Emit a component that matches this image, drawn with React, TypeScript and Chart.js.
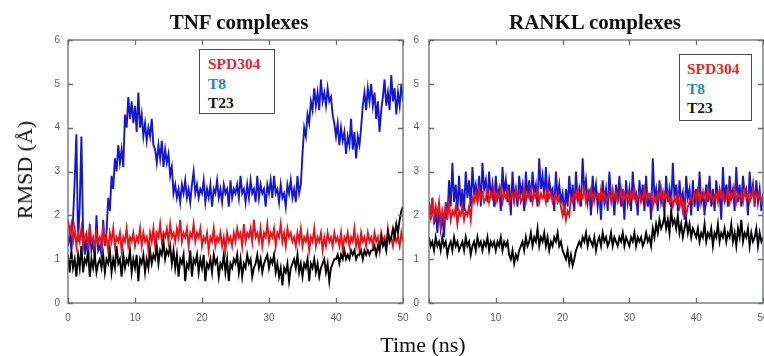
import React, { useEffect, useRef } from "react";
import { Chart, registerables } from "chart.js";

Chart.register(...registerables);

// ---------- data (RMSD in Å, sampled every 0.25 ns from 0 to 50 ns) ----------
const TIME_STEP_NS = 0.25;
const X_TICKS = [0, 10, 20, 30, 40, 50];
const Y_TICKS = [0, 1, 2, 3, 4, 5, 6];
const SERIES_NAMES = ["SPD304", "T8", "T23"];
const PANEL_TITLES = ["TNF complexes", "RANKL complexes"];
const X_TITLE = "Time (ns)";
const Y_TITLE = "RMSD (Å)";

const TNF_T8 = [
  1.3, 1.6, 1.2, 1.9, 2.8, 3.85, 1.4, 2.2, 3.8, 1.6, 1.1, 1.5, 1.0, 1.8, 1.2, 1.4, 1.0, 2.0, 1.2, 1.3,
  1.1, 1.9, 1.3, 1.6, 2.4, 2.1, 2.9, 2.6, 3.3, 3.0, 3.6, 3.2, 3.5, 3.1, 4.3, 4.0, 4.7, 4.2, 4.6, 4.1,
  4.5, 3.9, 4.8, 4.0, 4.3, 3.8, 4.1, 3.7, 4.0, 3.8, 4.2, 3.6, 3.5, 3.2, 3.6, 3.3, 3.7, 3.1, 3.5, 3.2,
  3.4, 2.9, 3.1, 2.5, 2.7, 2.4, 2.6, 2.3, 2.7, 2.5, 2.8, 2.4, 2.6, 2.3, 2.7, 3.0, 2.5, 2.7, 2.4, 2.6,
  2.5, 2.8, 2.3, 2.6, 2.4, 2.7, 2.2, 2.6, 2.5, 2.8, 2.4, 2.6, 2.3, 2.7, 2.5, 2.6, 2.2, 2.8, 2.4, 2.6,
  2.5, 2.7, 2.4, 2.9, 2.5, 2.6, 2.3, 2.7, 2.4, 2.8, 2.5, 2.6, 2.3, 2.9, 2.4, 2.7, 2.5, 2.6, 2.2, 2.7,
  2.5, 2.8, 2.4, 2.9, 2.5, 2.6, 2.3, 2.7, 2.4, 2.5, 2.2, 2.7, 2.5, 2.8, 2.4, 2.6, 2.3, 2.9, 2.5, 2.7,
  3.4, 4.0, 3.8, 4.3, 4.1, 4.6, 4.4, 4.9, 4.5, 4.8, 4.4, 5.1, 4.6, 4.8, 4.5, 4.9, 4.6, 4.7, 4.3, 4.1,
  3.8, 4.1, 3.6, 4.0, 3.7, 3.9, 3.4, 3.8, 3.6, 4.2, 3.5, 3.9, 3.3, 3.8, 3.6, 4.0, 4.5, 4.8, 4.4, 4.9,
  4.6, 5.0, 4.5, 4.8, 4.2, 4.6, 3.9, 4.4, 4.7, 5.1, 4.5, 4.8, 4.4, 5.2, 4.6, 4.9, 4.3, 4.8, 4.5, 5.0, 4.6,
];

const TNF_SPD304 = [
  1.9, 1.6, 1.8, 1.4, 1.7, 1.3, 1.6, 1.4, 1.7, 1.3, 1.5, 1.6, 1.3, 1.7, 1.4, 1.5, 1.2, 1.6, 1.4, 1.5,
  1.3, 1.7, 1.4, 1.5, 1.2, 1.6, 1.4, 1.7, 1.3, 1.5, 1.4, 1.6, 1.2, 1.5, 1.4, 1.7, 1.3, 1.5, 1.4, 1.6,
  1.3, 1.5, 1.4, 1.7, 1.3, 1.6, 1.4, 1.5, 1.2, 1.6, 1.4, 1.7, 1.3, 1.6, 1.5, 1.8, 1.4, 1.6, 1.5, 1.7,
  1.4, 1.8, 1.5, 1.6, 1.4, 1.7, 1.5, 1.9, 1.4, 1.6, 1.5, 1.7, 1.3, 1.6, 1.5, 1.8, 1.4, 1.6, 1.5, 1.7,
  1.3, 1.5, 1.4, 1.6, 1.2, 1.5, 1.4, 1.7, 1.3, 1.5, 1.4, 1.6, 1.3, 1.5, 1.2, 1.6, 1.4, 1.5, 1.3, 1.6,
  1.4, 1.7, 1.5, 1.6, 1.3, 1.8, 1.4, 1.6, 1.5, 1.7, 1.4, 1.9, 1.5, 1.6, 1.4, 1.7, 1.3, 1.6, 1.5, 1.8,
  1.4, 1.6, 1.5, 1.7, 1.3, 1.6, 1.5, 1.8, 1.4, 1.6, 1.3, 1.7, 1.5, 1.6, 1.4, 1.5, 1.3, 1.6, 1.4, 1.7,
  1.3, 1.5, 1.4, 1.6, 1.2, 1.5, 1.4, 1.7, 1.3, 1.5, 1.4, 1.6, 1.2, 1.5, 1.3, 1.6, 1.4, 1.5, 1.3, 1.6,
  1.4, 1.5, 1.3, 1.6, 1.2, 1.5, 1.4, 1.6, 1.3, 1.5, 1.4, 1.7, 1.3, 1.5, 1.2, 1.6, 1.4, 1.5, 1.3, 1.6,
  1.4, 1.5, 1.3, 1.6, 1.4, 1.5, 1.2, 1.6, 1.4, 1.5, 1.3, 1.7, 1.4, 1.5, 1.3, 1.6, 1.4, 1.5, 1.3, 1.6, 1.4,
];

const TNF_T23 = [
  1.1, 0.7, 1.2, 0.8, 1.0, 0.6, 1.1, 0.8, 1.3, 0.7, 1.0, 0.9, 1.2, 0.6, 1.0, 0.8, 1.1, 0.7, 0.9, 1.0,
  0.8, 1.1, 0.7, 1.0, 0.9, 1.2, 0.7, 1.0, 0.8, 1.3, 0.9, 1.0, 0.6, 1.1, 0.8, 1.0, 0.9, 1.2, 0.7, 1.0,
  0.8, 1.1, 0.5, 1.0, 0.9, 1.1, 0.7, 1.0, 0.8, 1.2, 0.9, 1.1, 1.0, 1.3, 0.9, 1.2, 1.1, 1.4, 1.0, 1.2,
  1.1, 1.3, 0.9, 1.2, 0.8, 1.1, 0.6, 1.0, 0.9, 1.1, 0.5, 0.9, 0.8, 1.2, 0.6, 1.0, 0.9, 1.1, 0.7, 1.0,
  0.8, 1.1, 0.5, 0.9, 0.8, 1.0, 0.7, 1.1, 0.9, 1.0, 0.6, 0.9, 0.8, 1.1, 0.7, 1.0, 0.5, 0.9, 0.8, 1.0,
  0.9, 1.1, 0.7, 1.0, 0.6, 0.9, 0.8, 1.1, 0.9, 1.0, 0.6, 0.8, 0.9, 1.1, 0.8, 1.0, 0.7, 0.9, 1.0, 1.1,
  0.8, 1.0, 0.9, 1.1, 0.7, 0.9, 0.6, 0.8, 0.4, 0.8, 0.7, 0.9, 0.5, 0.8, 0.9, 1.0, 0.8, 1.1, 0.7, 0.9,
  0.6, 0.9, 0.8, 1.0, 0.5, 0.9, 0.8, 1.0, 0.7, 0.9, 0.6, 0.8, 0.9, 1.0, 0.7, 0.9, 0.5, 0.8, 0.9, 1.0,
  1.0, 1.1, 0.9, 1.1, 1.0, 1.2, 1.0, 1.1, 1.0, 1.2, 1.1, 1.2, 1.0, 1.1, 1.1, 1.2, 1.0, 1.2, 1.1, 1.2,
  1.1, 1.2, 1.2, 1.3, 1.1, 1.3, 1.2, 1.5, 1.3, 1.4, 1.2, 1.6, 1.4, 1.5, 1.7, 1.5, 1.8, 1.6, 1.9, 2.1, 2.2,
];

const RANKL_T8 = [
  2.3, 1.9, 2.4, 1.8, 2.1, 1.6, 2.2, 1.7, 2.0, 1.5, 2.3, 1.9, 2.8, 2.2, 3.2, 2.3, 2.7, 2.1, 2.9, 2.2,
  2.6, 2.1, 3.0, 2.4, 2.8, 2.2, 3.1, 2.5, 2.7, 2.3, 2.9, 2.2, 3.2, 2.6, 2.8, 2.3, 3.0, 2.4, 2.7, 2.2,
  2.9, 2.4, 2.6, 2.1, 3.1, 2.5, 2.8, 2.3, 2.7, 2.0, 3.0, 2.4, 2.6, 2.2, 2.9, 2.5, 2.7, 2.1, 3.0, 2.4,
  2.8, 2.3, 3.0, 2.5, 2.7, 2.2, 3.3, 2.6, 2.9, 2.4, 3.1, 2.3, 2.8, 2.5, 2.6, 2.1, 3.0, 2.4, 2.7, 2.3,
  2.5, 2.0, 2.6, 2.2, 2.9, 2.3, 2.7, 2.1, 3.0, 2.4, 2.6, 2.2, 3.3, 2.5, 2.8, 2.3, 2.6, 2.0, 2.9, 2.4,
  2.7, 2.2, 2.5, 1.9, 2.8, 2.3, 2.6, 2.1, 3.0, 2.4, 2.5, 2.0, 2.7, 2.3, 2.9, 2.2, 2.6, 1.9, 2.8, 2.3,
  2.6, 2.1, 3.0, 2.4, 2.5, 2.0, 2.8, 2.3, 2.7, 2.1, 2.9, 2.2, 2.5, 1.9, 3.3, 2.4, 2.6, 2.1, 2.8, 2.3,
  2.5, 2.0, 2.9, 2.3, 2.6, 2.2, 3.2, 2.4, 2.7, 2.1, 2.8, 2.3, 2.5, 1.9, 2.9, 2.4, 2.6, 2.0, 2.8, 2.2,
  2.6, 2.1, 3.0, 2.3, 2.5, 2.0, 2.7, 2.3, 2.9, 2.2, 2.6, 2.1, 2.8, 2.4, 2.5, 1.9, 3.1, 2.3, 2.7, 2.2,
  2.9, 2.4, 2.6, 2.1, 3.1, 2.3, 2.7, 2.2, 2.9, 2.5, 2.6, 2.0, 3.0, 2.4, 2.7, 2.2, 2.8, 2.3, 2.6, 2.1, 2.5,
];

const RANKL_SPD304 = [
  2.3, 2.0, 2.4, 1.9, 2.2, 2.0, 2.3, 1.8, 2.1, 1.9, 2.2, 2.0, 2.3, 1.9, 2.1, 2.0, 2.2, 1.8, 2.1, 2.0,
  2.2, 1.9, 2.1, 2.0, 2.2, 1.9, 2.4, 2.3, 2.5, 2.3, 2.6, 2.4, 2.5, 2.3, 2.4, 2.6, 2.3, 2.5, 2.4, 2.6,
  2.3, 2.5, 2.4, 2.6, 2.3, 2.5, 2.4, 2.6, 2.3, 2.4, 2.5, 2.3, 2.6, 2.4, 2.5, 2.3, 2.4, 2.6, 2.3, 2.5,
  2.4, 2.6, 2.3, 2.5, 2.4, 2.6, 2.3, 2.5, 2.4, 2.5, 2.3, 2.6, 2.4, 2.5, 2.3, 2.4, 2.5, 2.3, 2.4, 2.2,
  2.0, 2.2, 1.9, 2.1, 2.0, 2.4, 2.3, 2.5, 2.4, 2.6, 2.3, 2.5, 2.4, 2.6, 2.3, 2.5, 2.4, 2.6, 2.3, 2.5,
  2.4, 2.5, 2.3, 2.6, 2.4, 2.5, 2.3, 2.4, 2.5, 2.3, 2.6, 2.4, 2.5, 2.3, 2.4, 2.6, 2.3, 2.5, 2.4, 2.5,
  2.3, 2.5, 2.4, 2.6, 2.3, 2.4, 2.5, 2.3, 2.4, 2.6, 2.3, 2.5, 2.4, 2.5, 2.2, 2.4, 2.3, 2.5, 2.4, 2.6,
  2.3, 2.5, 2.4, 2.5, 2.3, 2.4, 2.2, 2.4, 2.3, 2.5, 2.2, 2.4, 2.1, 2.3, 2.0, 2.2, 2.3, 2.4, 2.3, 2.5,
  2.4, 2.6, 2.3, 2.5, 2.4, 2.5, 2.3, 2.6, 2.4, 2.5, 2.3, 2.4, 2.5, 2.3, 2.6, 2.4, 2.5, 2.3, 2.4, 2.6,
  2.3, 2.5, 2.4, 2.6, 2.3, 2.5, 2.4, 2.5, 2.3, 2.6, 2.4, 2.5, 2.3, 2.4, 2.6, 2.3, 2.5, 2.4, 2.5, 2.3, 2.4,
];

const RANKL_T23 = [
  1.5, 1.3, 1.4, 1.2, 1.5, 1.3, 1.4, 1.2, 1.5, 1.3, 1.4, 1.1, 1.3, 1.4, 1.2, 1.5, 1.3, 1.4, 1.2, 1.3,
  1.4, 1.2, 1.5, 1.3, 1.4, 1.1, 1.3, 1.4, 1.2, 1.5, 1.3, 1.4, 1.2, 1.4, 1.3, 1.5, 1.2, 1.4, 1.3, 1.4,
  1.2, 1.4, 1.3, 1.5, 1.2, 1.4, 1.3, 1.4, 1.1, 1.0, 1.2, 0.9, 1.1, 1.0, 1.2, 1.3, 1.4, 1.2, 1.5, 1.3,
  1.4, 1.6, 1.3, 1.5, 1.4, 1.7, 1.3, 1.5, 1.4, 1.6, 1.3, 1.5, 1.2, 1.4, 1.3, 1.5, 1.4, 1.6, 1.3, 1.4,
  1.2, 1.1, 1.0, 1.2, 0.9, 1.1, 0.85, 1.0, 1.2, 1.3, 1.4, 1.3, 1.5, 1.4, 1.6, 1.3, 1.5, 1.4, 1.3, 1.5,
  1.2, 1.4, 1.5, 1.3, 1.6, 1.4, 1.5, 1.3, 1.4, 1.6, 1.3, 1.5, 1.4, 1.3, 1.5, 1.4, 1.6, 1.3, 1.5, 1.4,
  1.3, 1.5, 1.4, 1.6, 1.3, 1.5, 1.4, 1.5, 1.3, 1.4, 1.6, 1.4, 1.5, 1.3, 1.7, 1.5, 1.8, 1.6, 1.9, 1.7,
  1.8, 2.0, 1.7, 1.9, 1.6, 2.1, 1.8, 1.9, 1.7, 2.0, 1.6, 1.8, 1.5, 1.7, 1.9, 1.6, 1.8, 1.5, 1.7, 1.6,
  1.5, 1.7, 1.4, 1.6, 1.5, 1.8, 1.4, 1.6, 1.5, 1.7, 1.3, 1.6, 1.5, 1.8, 1.4, 1.6, 1.5, 1.7, 1.4, 1.6,
  1.5, 1.8, 1.4, 1.6, 1.3, 1.7, 1.5, 1.9, 1.4, 1.6, 1.5, 1.7, 1.3, 1.6, 1.4, 1.5, 1.7, 1.3, 1.6, 1.4, 1.5,
];

// ---------- styles ----------
const LINE_COLORS: Record<string, string> = { SPD304: "#e8131a", T8: "#1616cc", T23: "#000000" };
const LEGEND_COLORS: Record<string, string> = { SPD304: "#dc2a30", T8: "#2d83c0", T23: "#151515" };
const FRAME_COLOR = "#6a6a78";
const TICK_LABEL_COLOR = "#5c5c5c";
const SERIF = '"Liberation Serif", "Times New Roman", serif';
const SANS = '"Liberation Sans", Arial, sans-serif';

function toPoints(vals: number[]) {
  return vals.map((y, i) => ({ x: i * TIME_STEP_NS, y }));
}

const framePlugin = {
  id: "frameTicks",
  afterDatasetsDraw(chart: any) {
    const { ctx, chartArea: a, scales } = chart;
    ctx.save();
    ctx.strokeStyle = FRAME_COLOR;
    ctx.lineWidth = 1.3;
    ctx.strokeRect(a.left, a.top, a.right - a.left, a.bottom - a.top);
    ctx.beginPath();
    const len = 5;
    X_TICKS.forEach((v) => {
      const px = Math.round(scales.x.getPixelForValue(v)) + 0.5;
      ctx.moveTo(px, a.bottom);
      ctx.lineTo(px, a.bottom - len);
      ctx.moveTo(px, a.top);
      ctx.lineTo(px, a.top + len);
    });
    Y_TICKS.forEach((v) => {
      const py = Math.round(scales.y.getPixelForValue(v)) + 0.5;
      ctx.moveTo(a.left, py);
      ctx.lineTo(a.left + len, py);
      ctx.moveTo(a.right, py);
      ctx.lineTo(a.right - len, py);
    });
    ctx.stroke();
    ctx.restore();
  },
};

type PanelProps = {
  left: number;
  width: number;
  yAxisWidth: number;
  yPad: number;
  padRight: number;
  spd: number[];
  t8: number[];
  t23: number[];
};

function Panel({ left, width, yAxisWidth, yPad, padRight, spd, t8, t23 }: PanelProps) {
  const ref = useRef<HTMLCanvasElement | null>(null);
  useEffect(() => {
    if (!ref.current) return;
    const ds = (name: string, vals: number[]) => ({
      label: name,
      data: toPoints(vals),
      borderColor: LINE_COLORS[name],
      backgroundColor: LINE_COLORS[name],
      borderWidth: 1.9,
      pointRadius: 0,
      tension: 0,
      fill: false,
    });
    const chart = new Chart(ref.current, {
      type: "line",
      data: {
        // dataset 0 is painted last (on top)
        datasets: [ds("T23", t23), ds("SPD304", spd), ds("T8", t8)],
      },
      options: {
        animation: false,
        responsive: false,
        maintainAspectRatio: false,
        events: [],
        layout: { padding: { left: 0, right: padRight, top: 40, bottom: 0 } },
        plugins: {
          legend: { display: false },
          tooltip: { enabled: false },
          title: { display: false },
        },
        scales: {
          x: {
            type: "linear",
            min: 0,
            max: 50,
            grid: { display: false, drawTicks: false },
            border: { display: false },
            ticks: {
              stepSize: 10,
              padding: 9,
              autoSkip: false,
              maxRotation: 0,
              color: TICK_LABEL_COLOR,
              font: { family: SANS, size: 10 },
            },
            afterFit: (s: any) => {
              s.height = 53;
              s.paddingLeft = 0;
              s.paddingRight = 0;
            },
          },
          y: {
            type: "linear",
            min: 0,
            max: 6,
            grid: { display: false, drawTicks: false },
            border: { display: false },
            ticks: {
              stepSize: 1,
              padding: yPad,
              color: TICK_LABEL_COLOR,
              font: { family: SANS, size: 10 },
            },
            afterFit: (s: any) => {
              s.width = yAxisWidth;
              s.paddingTop = 0;
              s.paddingBottom = 0;
            },
          },
        },
      } as any,
      plugins: [framePlugin],
    });
    return () => chart.destroy();
  }, []);
  return (
    <canvas
      ref={ref}
      width={width}
      height={356}
      style={{ position: "absolute", left, top: 0, width, height: 356, display: "block" }}
    />
  );
}

function Txt({
  x,
  baseline,
  size,
  bold,
  color,
  center,
  children,
}: {
  x: number;
  baseline: number;
  size: number;
  bold?: boolean;
  color?: string;
  center?: boolean;
  children: React.ReactNode;
}) {
  return (
    <div
      style={{
        position: "absolute",
        left: x,
        top: baseline - 0.8375 * size,
        transform: center ? "translateX(-50%)" : undefined,
        whiteSpace: "nowrap",
        fontFamily: SERIF,
        fontSize: size,
        lineHeight: `${size}px`,
        fontWeight: bold ? 700 : 400,
        color: color || "#111",
      }}
    >
      {children}
    </div>
  );
}

function Legend({ left, top, width, height, textX, baselines }: {
  left: number; top: number; width: number; height: number; textX: number; baselines: number[];
}) {
  return (
    <>
      <div
        style={{
          position: "absolute",
          left,
          top,
          width,
          height,
          boxSizing: "border-box",
          border: "1.3px solid #4a4a4a",
          background: "#fff",
        }}
      />
      {SERIES_NAMES.map((n, i) => (
        <Txt key={n} x={textX} baseline={baselines[i]} size={15.5} bold color={LEGEND_COLORS[n]}>
          {n}
        </Txt>
      ))}
    </>
  );
}

export default function App() {
  return (
    <div
      style={{
        position: "fixed",
        left: 0,
        top: 0,
        width: 764,
        height: 356,
        background: "#fff",
        overflow: "hidden",
      }}
    >
      <Panel left={0} width={410} yAxisWidth={68} yPad={8} padRight={7} spd={TNF_SPD304} t8={TNF_T8} t23={TNF_T23} />
      <Panel left={410} width={354} yAxisWidth={19} yPad={10} padRight={1} spd={RANKL_SPD304} t8={RANKL_T8} t23={RANKL_T23} />

      <Txt x={239} baseline={30} size={21} bold center>{PANEL_TITLES[0]}</Txt>
      <Txt x={595} baseline={30} size={21} bold center>{PANEL_TITLES[1]}</Txt>

      <Legend left={199} top={49} width={76} height={65} textX={208} baselines={[68.5, 88.5, 108]} />
      <Legend left={679} top={54} width={73} height={67} textX={687} baselines={[74, 93.5, 113]} />

      <Txt x={423} baseline={352} size={22} center>{X_TITLE}</Txt>
      <div
        style={{
          position: "absolute",
          left: 24.6,
          top: 170,
          transform: "translate(-50%, -50%) rotate(-90deg)",
          whiteSpace: "nowrap",
          fontFamily: SERIF,
          fontSize: 22,
          lineHeight: "22px",
          color: "#111",
        }}
      >
        {Y_TITLE}
      </div>
    </div>
  );
}
